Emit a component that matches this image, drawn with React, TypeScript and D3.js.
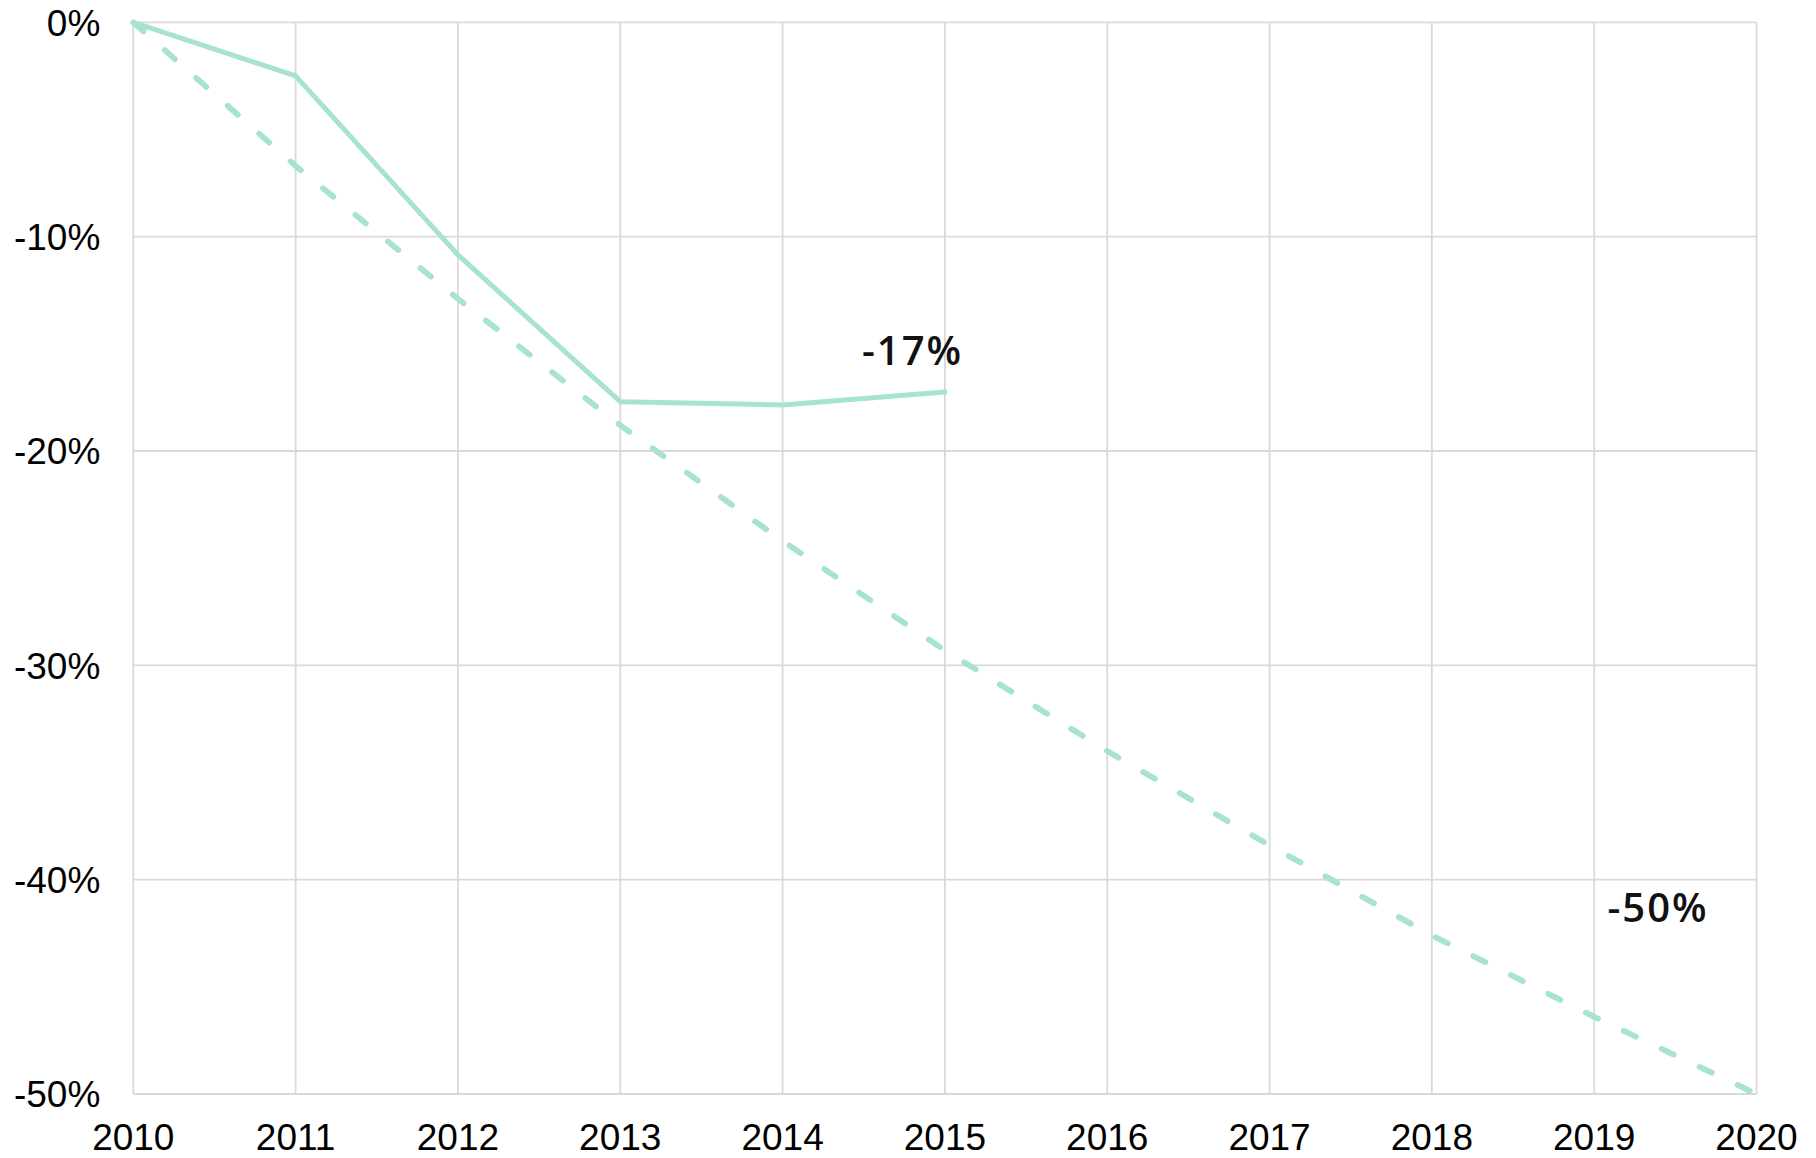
import React from "react";
import * as d3 from "d3";

const years = [2010, 2011, 2012, 2013, 2014, 2015, 2016, 2017, 2018, 2019, 2020];
const actualYears = [2010, 2011, 2012, 2013, 2014, 2015];
const actualValues = [0, -2.5, -10.85, -17.7, -17.85, -17.25];
const targetValues = [0, -6.7, -12.9, -18.8, -24.2, -29.3, -34.0, -38.4, -42.6, -46.4, -50.0];
const yTicks = [0, -10, -20, -30, -40, -50];
const annotations = [
  { year: 2015, value: -17.25, text: "-17%" },
  { year: 2020, value: -50, text: "-50%" },
];

const W = 1816;
const H = 1158;
const M = { left: 133.3, right: 59.5, top: 22.3, bottom: 64 };

export default function App() {
  const x = d3.scaleLinear().domain([2010, 2020]).range([M.left, W - M.right]);
  const y = d3.scaleLinear().domain([0, -50]).range([M.top, H - M.bottom]);
  const color = "#a8e3cb";

  const actualLine = d3
    .line<number>()
    .x((_, i) => x(actualYears[i]))
    .y((d) => y(d));
  const targetLine = d3
    .line<number>()
    .x((_, i) => x(years[i]))
    .y((d) => y(d));

  const axisFont = "'Liberation Sans', Arial, sans-serif";
  const annFont = "'Open Sans', 'Noto Sans', sans-serif";

  return (
    <svg
      width={W}
      height={H}
      style={{ position: "absolute", left: 0, top: 0, background: "#fff" }}
    >
      <rect x={0} y={0} width={W} height={H} fill="#fff" />
      {yTicks.map((t) => (
        <line
          key={"h" + t}
          x1={x(2010)}
          x2={x(2020)}
          y1={y(t)}
          y2={y(t)}
          stroke="#d9d9d9"
          strokeWidth={1.8}
        />
      ))}
      {years.map((yr) => (
        <line
          key={"v" + yr}
          x1={x(yr)}
          x2={x(yr)}
          y1={y(0)}
          y2={y(-50)}
          stroke="#d9d9d9"
          strokeWidth={1.8}
        />
      ))}
      {yTicks.map((t) => (
        <text
          key={"yl" + t}
          x={x(2010) - 33}
          y={y(t)}
          dy="0.36em"
          textAnchor="end"
          fontFamily={axisFont}
          fontSize={37}
          fill="#000"
        >
          {t + "%"}
        </text>
      ))}
      {years.map((yr) => (
        <text
          key={"xl" + yr}
          x={x(yr)}
          y={1150}
          textAnchor="middle"
          fontFamily={axisFont}
          fontSize={37}
          fill="#000"
        >
          {yr}
        </text>
      ))}
      <path
        d={targetLine(targetValues) || ""}
        fill="none"
        stroke={color}
        strokeWidth={5.8}
        strokeDasharray="13.5 28.5"
        strokeLinecap="round"
        strokeLinejoin="round"
      />
      <path
        d={actualLine(actualValues) || ""}
        fill="none"
        stroke={color}
        strokeWidth={5}
        strokeLinecap="round"
        strokeLinejoin="round"
      />
      <text
        x={x(annotations[0].year) - 83}
        y={y(annotations[0].value) - 27}
        fontFamily={annFont}
        fontSize={40}
        fontWeight={600}
        letterSpacing={2}
        fill="#111"
      >
        {annotations[0].text}
      </text>
      <text
        x={x(annotations[1].year) - 149}
        y={y(annotations[1].value) - 172}
        fontFamily={annFont}
        fontSize={40}
        fontWeight={600}
        letterSpacing={2}
        fill="#111"
      >
        {annotations[1].text}
      </text>
    </svg>
  );
}
